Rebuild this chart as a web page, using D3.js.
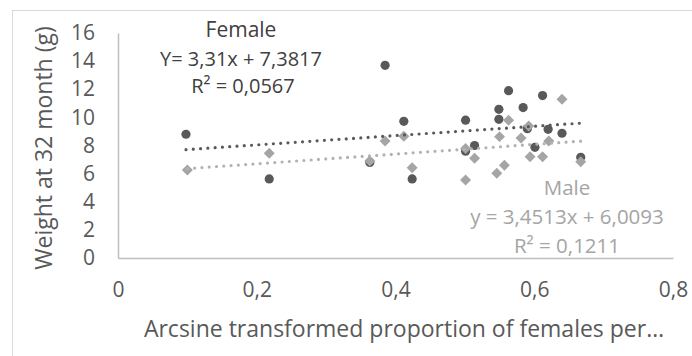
<!DOCTYPE html>
<html>
<head>
<meta charset="utf-8">
<script src="https://cdn.jsdelivr.net/npm/d3@7"></script>
<style>
  html, body { margin: 0; padding: 0; background: #fff; }
  svg text { font-family: "Open Sans", "Liberation Sans", sans-serif; }
</style>
</head>
<body>
<svg id="chart" width="692" height="356"></svg>
<script>
// Arcsine-transformed proportion of females (x) vs weight at 32 months (y)
const femaleX = [0.098, 0.218, 0.363, 0.385, 0.412, 0.424, 0.501, 0.501, 0.514, 0.549,
                 0.549, 0.563, 0.584, 0.590, 0.601, 0.612, 0.620, 0.640, 0.667];
const femaleY = [8.8, 5.62, 6.8, 13.7, 9.72, 5.62, 9.8, 7.6, 8.0, 10.57,
                 9.86, 11.9, 10.7, 9.2, 7.87, 11.55, 9.15, 8.87, 7.16];

const maleX = [0.100, 0.218, 0.363, 0.385, 0.412, 0.424, 0.501, 0.501, 0.514, 0.546,
               0.550, 0.557, 0.563, 0.581, 0.592, 0.594, 0.612, 0.621, 0.640, 0.667];
const maleY = [6.26, 7.45, 6.9, 8.32, 8.66, 6.42, 7.78, 5.55, 7.09, 6.03,
               8.63, 6.6, 9.8, 8.53, 9.39, 7.2, 7.2, 8.32, 11.29, 6.85];

// Linear fits (slope, intercept, R²)
const femaleFit = { slope: 3.31, intercept: 7.3817, r2: "0,0567" };
const maleFit = { slope: 3.4513, intercept: 6.0093, r2: "0,1211" };

const xTicks = [0, 0.2, 0.4, 0.6, 0.8];
const yTicks = [0, 2, 4, 6, 8, 10, 12, 14, 16];

const xTitle = "Arcsine transformed proportion of females per…";
const yTitle = "Weight at 32 month (g)";

const svg = d3.select("#chart");
const dark = "#595959", light = "#a5a5a5";

// outer chart border
svg.append("rect")
  .attr("x", 12.5).attr("y", 10.5).attr("width", 690).attr("height", 400)
  .attr("fill", "none").attr("stroke", "#d9d9d9").attr("stroke-width", 1);

const x = d3.scaleLinear().domain([0, 0.8]).range([118, 673]);
const y = d3.scaleLinear().domain([0, 16]).range([258, 33]);

const fmt = d => d === 0 ? "0" : String(d).replace(".", ",");

// axes
const gx = svg.append("g").attr("transform", `translate(0,${y(0)})`)
  .call(d3.axisBottom(x).tickValues(xTicks).tickFormat(fmt).tickSize(0).tickPadding(24));
const gy = svg.append("g").attr("transform", `translate(${x(0)},0)`)
  .call(d3.axisLeft(y).tickValues(yTicks).tickFormat(d => d).tickSize(0).tickPadding(23));
[gx, gy].forEach(g => {
  g.select(".domain").attr("stroke", "#bfbfbf").attr("stroke-width", 1.5);
  g.selectAll("text").attr("fill", dark).style("font-size", "21px")
    .style("font-family", "'Open Sans', sans-serif");
});

// axis titles
svg.append("text").attr("x", 404).attr("y", 337)
  .attr("text-anchor", "middle").attr("fill", dark).style("font-size", "23px")
  .text(xTitle);
svg.append("text")
  .attr("transform", `translate(52,148) rotate(-90)`)
  .attr("text-anchor", "middle").attr("fill", dark).style("font-size", "23px")
  .text(yTitle);

// markers
const female = femaleX.map((v, i) => [v, femaleY[i]]);
const male = maleX.map((v, i) => [v, maleY[i]]);

svg.append("g").selectAll("circle").data(female).join("circle")
  .attr("cx", d => x(d[0])).attr("cy", d => y(d[1])).attr("r", 4.6)
  .attr("fill", dark);

const diamond = d3.symbol().type(d3.symbolSquare).size(60);
svg.append("g").selectAll("path").data(male).join("path")
  .attr("d", diamond)
  .attr("transform", d => `translate(${x(d[0])},${y(d[1])}) rotate(45)`)
  .attr("fill", light);

// dotted trend lines across the range of each series
function trend(xs, fit, color) {
  const ext = d3.extent(xs);
  const pts = ext.map(v => [x(v), y(fit.slope * v + fit.intercept)]);
  svg.append("path").attr("d", d3.line()(pts))
    .attr("stroke", color).attr("stroke-width", 3.2)
    .attr("stroke-linecap", "round").attr("stroke-dasharray", "0 7.3")
    .attr("fill", "none");
}
trend(femaleX, femaleFit, dark);
trend(maleX, maleFit, "#b2b2b2");

// equation labels
const femaleLabel = svg.append("g").attr("fill", "#404040").attr("text-anchor", "middle")
  .style("font-size", "20px");
femaleLabel.append("text").attr("x", 241).attr("y", 37).style("font-size", "21px").text("Female");
femaleLabel.append("text").attr("x", 241).attr("y", 65.5)
  .text(`Y= ${String(femaleFit.slope).replace(".", ",")}x + ${String(femaleFit.intercept).replace(".", ",")}`);
femaleLabel.append("text").attr("x", 243).attr("y", 93).text(`R² = ${femaleFit.r2}`);

const maleLabel = svg.append("g").attr("fill", light).attr("text-anchor", "middle")
  .style("font-size", "20.5px");
maleLabel.append("text").attr("x", 567).attr("y", 195).text("Male");
maleLabel.append("text").attr("x", 567).attr("y", 223.5)
  .text(`y = ${String(maleFit.slope).replace(".", ",")}x + ${String(maleFit.intercept).replace(".", ",")}`);
maleLabel.append("text").attr("x", 567).attr("y", 252.5).text(`R² = ${maleFit.r2}`);
</script>
</body>
</html>
